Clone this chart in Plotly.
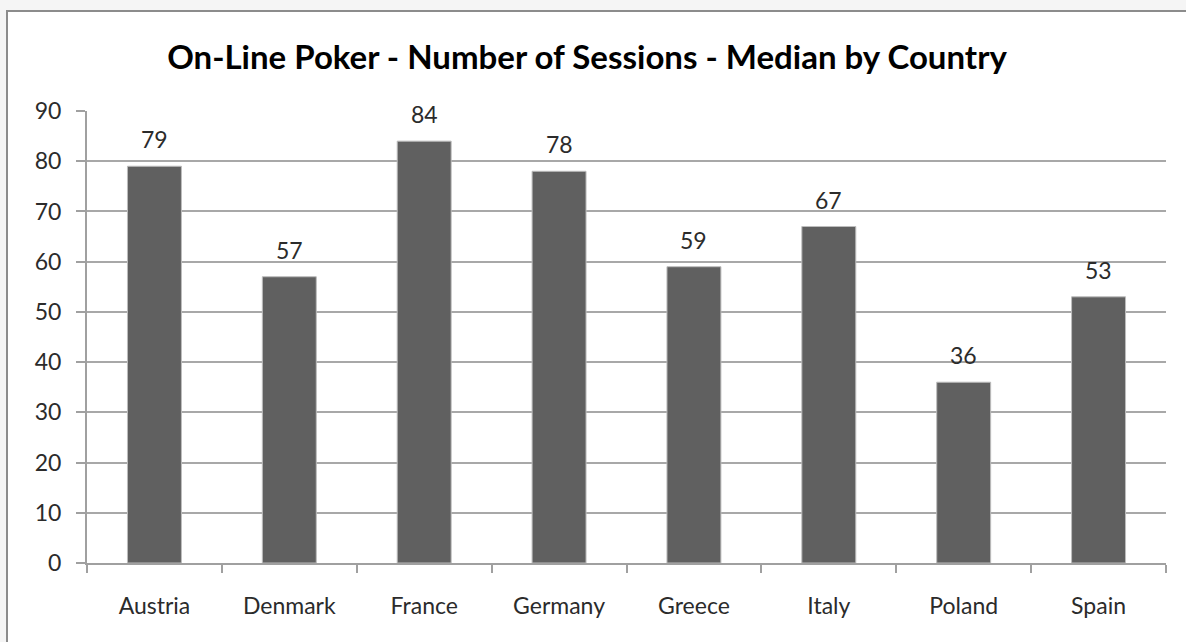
import plotly.graph_objects as go

# Median number of on-line poker sessions per country
countries = ["Austria", "Denmark", "France", "Germany", "Greece", "Italy", "Poland", "Spain"]
sessions = [79, 57, 84, 78, 59, 67, 36, 53]
y_ticks = [0, 10, 20, 30, 40, 50, 60, 70, 80, 90]

title_text = "On-Line Poker - Number of Sessions - Median by Country"

BAR = "#606060"
GRID = "#a8a8a8"
AXIS = "#a0a0a0"
TEXT = "#2b2b2b"

fig = go.Figure()
fig.add_trace(go.Bar(
    x=countries,
    y=sessions,
    marker=dict(color=BAR, line=dict(color="#bdbdbd", width=1)),
    width=0.4,
    hoverinfo="x+y",
))

# value labels above each bar
for c, v in zip(countries, sessions):
    fig.add_annotation(
        x=c, y=v, text=str(v), showarrow=False,
        xanchor="center", yanchor="bottom", yshift=11,
        font=dict(family="Lato", size=23, color=TEXT),
    )

fig.update_layout(
    width=1186, height=642,
    margin=dict(l=87, r=20, t=111, b=79),
    paper_bgcolor="#f5f5f5",
    plot_bgcolor="rgba(0,0,0,0)",
    showlegend=False,
    bargap=0.6,
    title=dict(
        text=title_text,
        x=(587 - 87) / 1079, xanchor="center", xref="paper",
        y=1 - 57 / 642, yanchor="middle", yref="container",
        font=dict(family="Lato", size=33, color="#000000", weight="bold"),
    ),
    shapes=[
        # white chart panel with a grey frame
        dict(type="rect", xref="paper", yref="paper", layer="below",
             x0=-80 / 1079, x1=1.05, y0=-0.25, y1=552 / 452,
             fillcolor="#ffffff", line=dict(color="#8c8c8c", width=2)),
    ],
)

fig.update_xaxes(
    showgrid=False,
    showline=True, linecolor=AXIS, linewidth=2,
    ticks="outside", tickson="boundaries", ticklen=8, tickcolor=AXIS, tickwidth=2,
    tickfont=dict(family="Lato", size=23, color=TEXT),
    ticklabelstandoff=21,
)
fig.update_yaxes(
    range=[0, 90], tickvals=y_ticks,
    showgrid=True, gridcolor=GRID, gridwidth=1.5,
    zeroline=False,
    showline=True, linecolor=AXIS, linewidth=2,
    ticks="outside", ticklen=9, tickcolor=AXIS, tickwidth=1.5,
    tickfont=dict(family="Lato", size=23, color=TEXT),
    ticklabelstandoff=10,
)

fig.write_html("out.html")
